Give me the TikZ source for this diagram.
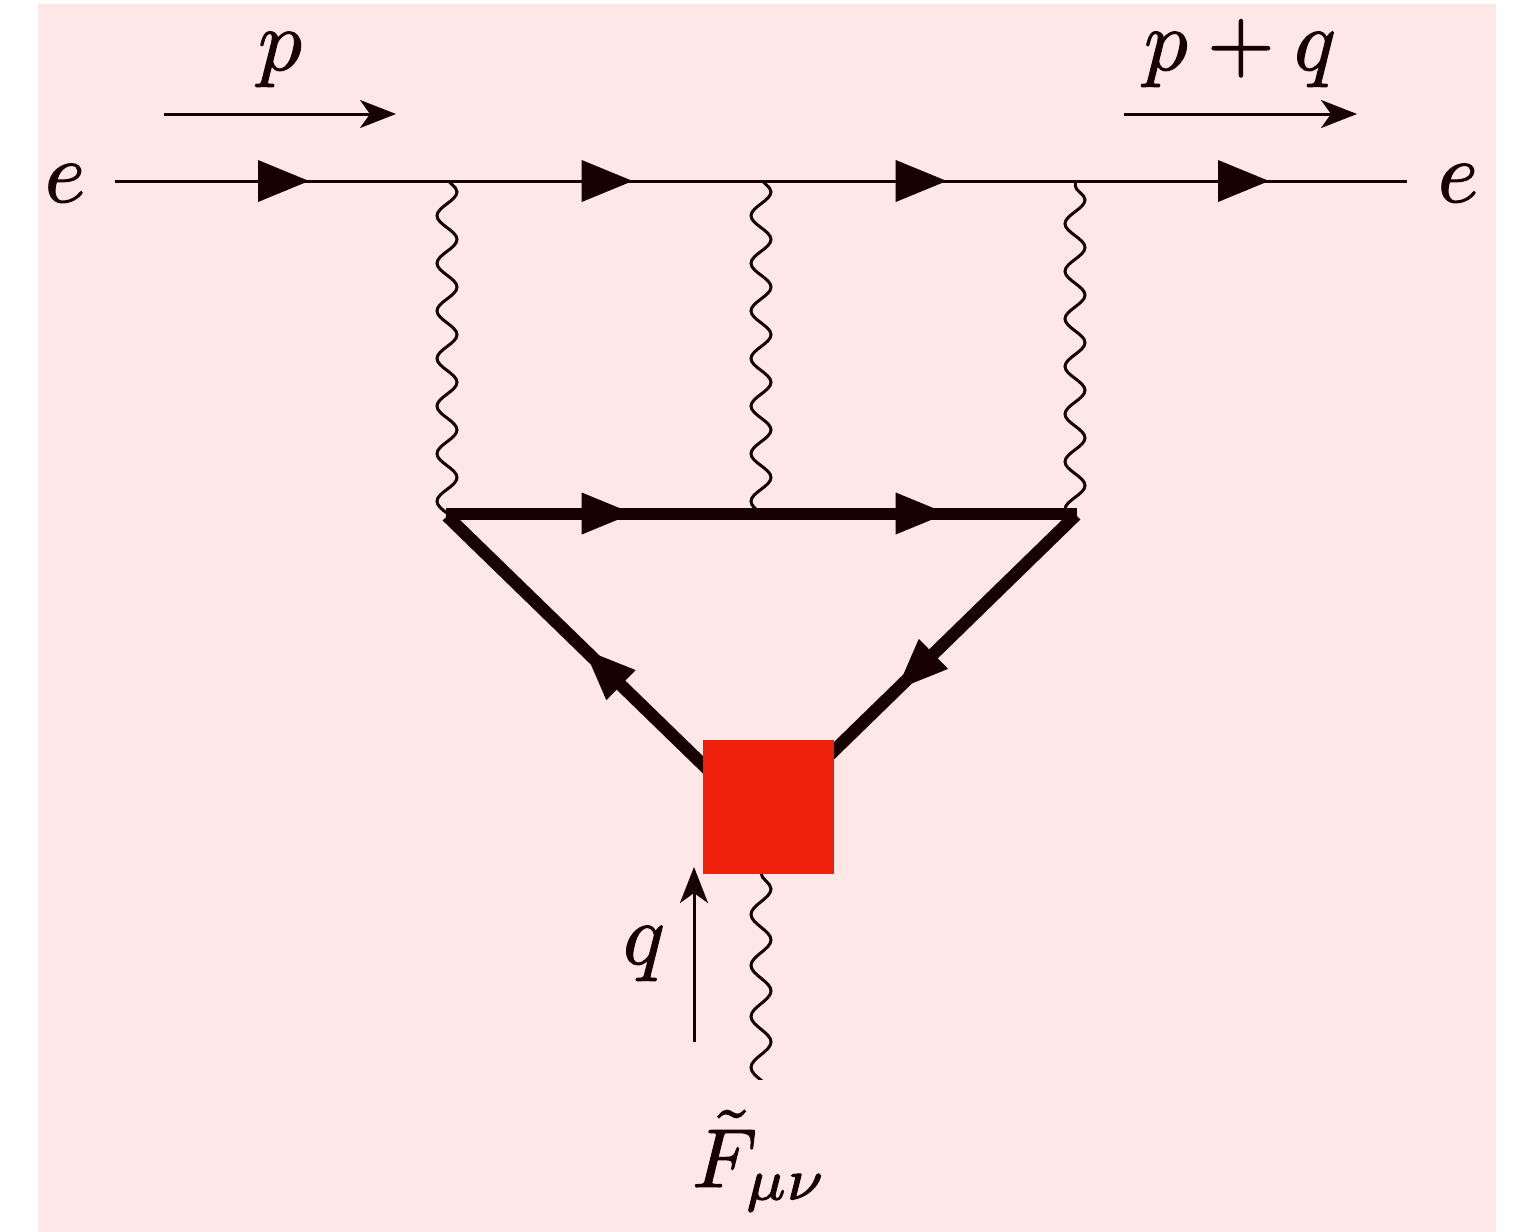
\documentclass[tikz,border=0pt]{standalone}
\usetikzlibrary{arrows.meta,decorations.pathmorphing,decorations.markings}
\definecolor{bgpink}{HTML}{FDE8E7}
\definecolor{ink}{HTML}{160000}
\definecolor{vertexred}{HTML}{EF210D}
\newcommand{\heavytext}{\special{pdf:code 2 Tr 0.12 w}}
\tikzset{
  thinline/.style={draw=ink,line width=3pt},
  thickline/.style={draw=ink,line width=#1},
  wave/.style={draw=ink,line width=3pt,decorate,decoration={snake,segment length=#1,amplitude=10pt}},
  wave/.default=47.6pt,
  momentum/.style={draw=ink,line width=3pt,-{Stealth[length=36pt,width=28pt,inset=10pt,color=ink]}},
  lbl/.style={text=ink,inner sep=0pt,anchor=base,scale=8.7},
  midarrow/.style={postaction={decorate,decoration={markings,
     mark=at position #1 with {\arrow[line width=0pt,color=ink]{Triangle[length=51pt,width=42pt]}}}}},
  twoarrows/.style n args={2}{postaction={decorate,decoration={markings,
     mark=at position #1 with {\arrow[line width=0pt,color=ink]{Triangle[length=51pt,width=42pt]}},
     mark=at position #2 with {\arrow[line width=0pt,color=ink]{Triangle[length=51pt,width=42pt]}}}}},
  fourarrows/.style={postaction={decorate,decoration={markings,
     mark=at position 194.5pt with {\arrow[line width=0pt,color=ink]{Triangle[length=51pt,width=42pt]}},
     mark=at position 518.2pt with {\arrow[line width=0pt,color=ink]{Triangle[length=51pt,width=42pt]}},
     mark=at position 832.2pt with {\arrow[line width=0pt,color=ink]{Triangle[length=51pt,width=42pt]}},
     mark=at position 1154.5pt with {\arrow[line width=0pt,color=ink]{Triangle[length=51pt,width=42pt]}}}}},
  vertexbox/.style={fill=vertexred,draw=none,inner sep=0pt,minimum width=131pt,minimum height=134pt},
}
\begin{document}
\begin{tikzpicture}[x=1pt,y=-1pt]
\useasboundingbox (0,0) rectangle (1516,1232);
\fill[bgpink] (38,4) rectangle (1496,1232);
% coordinates
\coordinate (in) at (114.5,181);
\coordinate (out) at (1407,181);
\coordinate (w1top) at (447,177);
\coordinate (w1bot) at (447,560);
\coordinate (w2top) at (761,177);
\coordinate (w2bot) at (761,560);
\coordinate (w3top) at (1075,185);
\coordinate (w3bot) at (1075,560);
\coordinate (w4top) at (761,873);
\coordinate (w4bot) at (761,1130);
\coordinate (tl) at (446,513.5);
\coordinate (tr) at (1077,513.5);
\coordinate (dl) at (447,516);
\coordinate (dr) at (1076,515);
\coordinate (vl) at (768,828);
\coordinate (vr) at (768,815);
\coordinate (pa) at (164,114);
\coordinate (pb) at (396,114);
\coordinate (pqa) at (1124,114);
\coordinate (pqb) at (1357,114);
\coordinate (qa) at (694,1042);
\coordinate (qb) at (694,867);
% waves
\begin{scope}
\clip (400,182.5) rectangle (1100,514);
\draw[wave] (w1top) -- (w1bot);
\draw[wave] (w2top) -- (w2bot);
\draw[wave] (w3top) -- (w3bot);
\end{scope}
\draw[draw=ink,line width=3pt] (1075,182) -- (w3top);
\begin{scope}
\clip (700,860) rectangle (820,1079);
\draw[wave=51pt] (w4top) -- (w4bot);
\end{scope}
% fermion lines
\path[thinline,fourarrows] (in) -- (out);
\path[thickline=12pt,twoarrows={186.7pt}{500.7pt}] (tl) -- (tr);
\path[thickline=12.5pt,midarrow={256pt}] (vl) -- (dl);
\path[thickline=12.5pt,midarrow={250pt}] (dr) -- (vr);
% square
\node[vertexbox] (vertex) at (768.5,807) {};
% momentum arrows
\draw[momentum] (pa) -- (pb);
\draw[momentum] (pqa) -- (pqb);
\draw[momentum] (qa) -- (qb);
% labels
\node[lbl] (lp) at (280,70) {\heavytext$p$};
\node[lbl] (lpq) at (1240,70) {\heavytext$p+q$};
\node[lbl] (le1) at (65,202) {\heavytext$e$};
\node[lbl] (le2) at (1458,202) {\heavytext$e$};
\node[lbl] (lq) at (644,964) {\heavytext$q$};
\node[lbl,scale=0.96] (lf) at (760,1187) {\heavytext$\tilde F_{\mu\nu}$};
\end{tikzpicture}
\end{document}
